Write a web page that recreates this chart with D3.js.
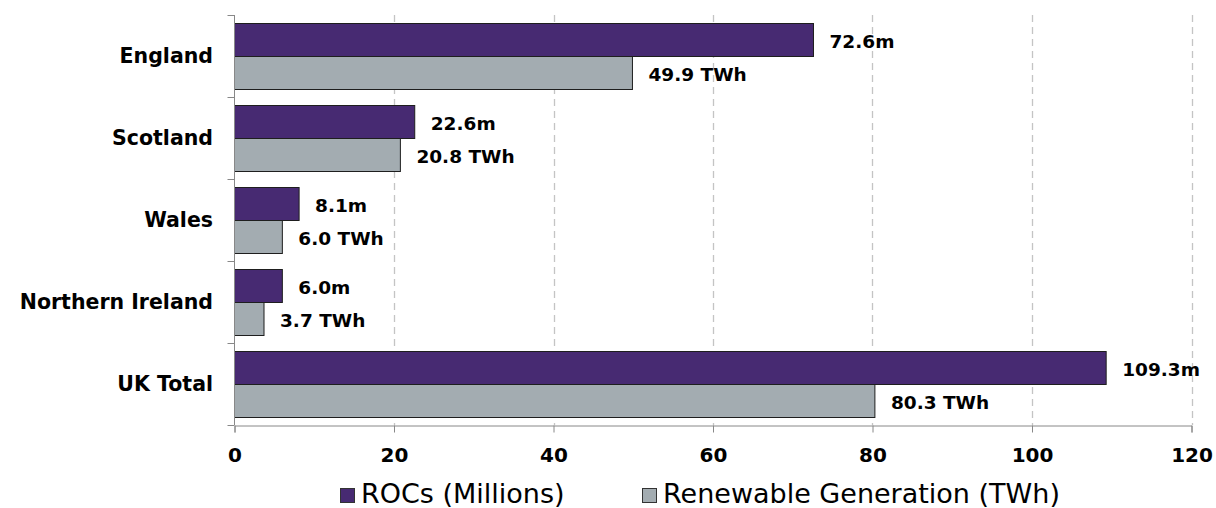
<!DOCTYPE html>
<html>
<head>
<meta charset="utf-8">
<script src="https://cdn.jsdelivr.net/npm/d3@7"></script>
<style>
  body { margin: 0; background: #fff; }
  svg { display: block; font-family: Verdana, "DejaVu Sans", sans-serif; }
</style>
</head>
<body>
<svg width="1216" height="508"></svg>
<script>
var regions = ["England", "Scotland", "Wales", "Northern Ireland", "UK Total"];
var rocs = [72.6, 22.6, 8.1, 6.0, 109.3];
var generation = [49.9, 20.8, 6.0, 3.7, 80.3];
var xTicks = [0, 20, 40, 60, 80, 100, 120];
var seriesNames = ["ROCs (Millions)", "Renewable Generation (TWh)"];
var seriesColors = ["#472a72", "#a3acb1"];

var svg = d3.select("svg");

var x = d3.scaleLinear().domain([0, 120]).range([234.5, 1191.5]);
var y = d3.scaleBand().domain(regions).range([15, 425]);
var ySub = d3.scaleBand().domain([0, 1]).range([8, y.bandwidth() - 8]);

// dashed grid
svg.append("g").selectAll("line")
  .data(xTicks.slice(1))
  .enter().append("line")
    .attr("x1", d => Math.round(x(d)) + 0.5)
    .attr("x2", d => Math.round(x(d)) + 0.5)
    .attr("y1", 15)
    .attr("y2", 425)
    .attr("stroke", "#c4c4c4")
    .attr("stroke-width", 1.3)
    .attr("stroke-dasharray", "7,5");

var rows = regions.map(function(r, i) {
  return { region: r, vals: [rocs[i], generation[i]] };
});

var row = svg.append("g").selectAll("g")
  .data(rows)
  .enter().append("g")
    .attr("transform", d => "translate(0," + y(d.region) + ")");

row.selectAll("rect")
  .data(d => d.vals)
  .enter().append("rect")
    .attr("x", x(0))
    .attr("y", (d, i) => ySub(i) + 0.5)
    .attr("width", d => x(d) - x(0))
    .attr("height", ySub.bandwidth())
    .attr("fill", (d, i) => seriesColors[i])
    .attr("stroke", "#1e1e1e")
    .attr("stroke-width", 1);

row.selectAll("text.val")
  .data(d => d.vals)
  .enter().append("text")
    .attr("class", "val")
    .attr("x", d => x(d) + 16)
    .attr("y", (d, i) => ySub(i) + ySub.bandwidth() / 2 + 2)
    .attr("dy", "0.35em")
    .attr("font-size", 18.5)
    .attr("font-weight", "bold")
    .attr("fill", "#000")
    .text((d, i) => i == 0 ? d.toFixed(1) + "m" : d.toFixed(1) + " TWh");

// category labels
svg.append("g").selectAll("text")
  .data(regions)
  .enter().append("text")
    .attr("x", 213)
    .attr("y", d => y(d) + y.bandwidth() / 2)
    .attr("dy", "0.36em")
    .attr("text-anchor", "end")
    .attr("font-size", 20.5)
    .attr("font-weight", "bold")
    .text(d => d);

// axes
var axisColor = "#888";
var yAxis = svg.append("g");
yAxis.append("line")
  .attr("x1", x(0)).attr("x2", x(0))
  .attr("y1", 15).attr("y2", 425)
  .attr("stroke", axisColor);
yAxis.selectAll("line.tick")
  .data(regions.map(d => y(d)).concat([y.range()[1]]))
  .enter().append("line")
    .attr("class", "tick")
    .attr("x1", x(0) - 7).attr("x2", x(0))
    .attr("y1", d => d + 0.5).attr("y2", d => d + 0.5)
    .attr("stroke", axisColor);

var xAxis = d3.axisBottom(x).tickValues(xTicks).tickSize(7).tickFormat(d3.format("d"));
var xg = svg.append("g")
  .attr("transform", "translate(0,425.5)")
  .call(xAxis);
xg.select(".domain").attr("stroke", axisColor);
xg.selectAll(".tick line").attr("stroke", axisColor);
xg.selectAll(".tick text")
  .attr("y", 22)
  .attr("font-family", "Verdana, 'DejaVu Sans', sans-serif")
  .attr("font-size", 20)
  .attr("font-weight", "bold")
  .attr("fill", "#000");

// legend
var legendX = [340, 642];
var legend = svg.append("g").selectAll("g")
  .data(seriesNames)
  .enter().append("g")
    .attr("transform", (d, i) => "translate(" + legendX[i] + ",488)");
legend.append("rect")
  .attr("x", 0.5).attr("y", 0.5)
  .attr("width", 14).attr("height", 14)
  .attr("fill", (d, i) => seriesColors[i])
  .attr("stroke", "#333");
legend.append("text")
  .attr("x", 21)
  .attr("y", 15)
  .attr("font-size", 27)
  .attr("fill", "#000")
  .text(d => d);
</script>
</body>
</html>
